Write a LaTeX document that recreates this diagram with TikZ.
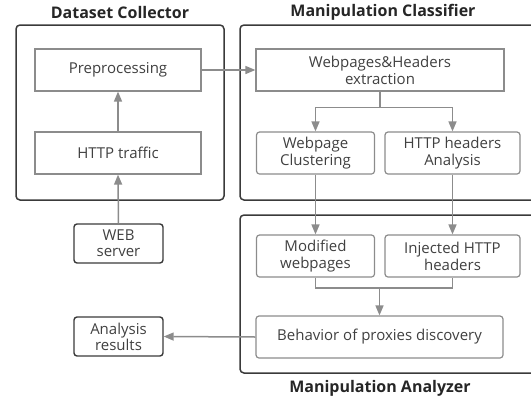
\documentclass[tikz,border=0pt]{standalone}
\usepackage{fontspec}
\setmainfont{Open Sans}
\usetikzlibrary{arrows.meta,calc}
\definecolor{boxline}{HTML}{8C8C8C}
\definecolor{boxtext}{HTML}{404040}
\definecolor{grpline}{HTML}{3A3A3A}
\definecolor{arrcol}{HTML}{8C8C8C}
\begin{document}
\begin{tikzpicture}[x=1pt,y=-1pt,
  inner/.style={draw=boxline,line width=1.2pt,text=boxtext,align=center,inner sep=0pt,
    font=\fontsize{15}{17}\selectfont},
  sq/.style={inner,rounded corners=0pt},
  rd/.style={inner,rounded corners=3pt},
  ext/.style={draw=grpline,line width=1.4pt,rounded corners=3pt,text=boxtext,align=center,inner sep=0pt,
    minimum width=89pt,minimum height=39pt,font=\fontsize{15}{16}\selectfont},
  grp/.style={draw=grpline,line width=1.5pt,rounded corners=4pt,inner sep=0pt},
  title/.style={font=\bfseries\fontsize{16}{18}\selectfont,text=black!85},
  conn/.style={draw=arrcol,line width=1.5pt},
  arr/.style={conn,-{Triangle[length=10pt,width=8pt]}}]
\useasboundingbox (0,0) rectangle (531,400);
% group boxes
\node[grp,minimum width=208pt,minimum height=175pt] (gcol) at (120,112.5) {};
\node[grp,minimum width=300pt,minimum height=175pt] (gcla) at (390,112.5) {};
\node[grp,minimum width=300pt,minimum height=158pt] (gana) at (390,294) {};
\node[title] (tcol) at (120,12) {Dataset Collector};
\node[title] (tcla) at (383,12) {Manipulation Classifier};
\node[title] (tana) at (380,388) {Manipulation Analyzer};
% inner boxes
\node[sq,minimum width=166pt,minimum height=42pt] (prep) at (118,70) {Preprocessing};
\node[sq,minimum width=166pt,minimum height=42pt] (traffic) at (118,153) {HTTP traffic};
\node[ext] (web) at (118.5,243.5) {WEB\\server};
\node[ext] (results) at (118.5,336.5) {Analysis\\results};
\node[sq,minimum width=248pt,minimum height=42pt] (extract) at (380,70) {Webpages\&Headers\\extraction};
\node[rd,minimum width=118pt,minimum height=42pt] (clust) at (315.5,153) {Webpage\\Clustering};
\node[rd,minimum width=135pt,minimum height=42pt] (hdr) at (452.5,153) {HTTP headers\\Analysis};
\node[rd,minimum width=118pt,minimum height=42pt] (mod) at (315.5,256) {Modified\\webpages};
\node[rd,minimum width=135pt,minimum height=42pt] (inj) at (452.5,256) {Injected HTTP\\headers};
\node[rd,minimum width=247pt,minimum height=42pt] (behav) at (379.5,337) {Behavior of proxies discovery};
% connectors
\draw[arr] (web.north) -- (traffic.south);
\draw[arr] (traffic.north) -- (prep.south);
\draw[arr] (prep.east) -- (extract.west);
\coordinate (split) at ($(extract.south)+(0,16)$);
\draw[conn] (extract.south) -- (split);
\draw[arr] (split) -| (clust.north);
\draw[arr] (split) -| (hdr.north);
\draw[arr] (clust.south) -- (mod.north);
\draw[arr] (hdr.south) -- (inj.north);
\coordinate (mj) at (behav.north |- 0,288);
\draw[conn] (mod.south) |- (mj) -| (inj.south);
\draw[arr] (mj) -- (behav.north);
\draw[arr] (behav.west) -- (results.east);
\end{tikzpicture}
\end{document}
